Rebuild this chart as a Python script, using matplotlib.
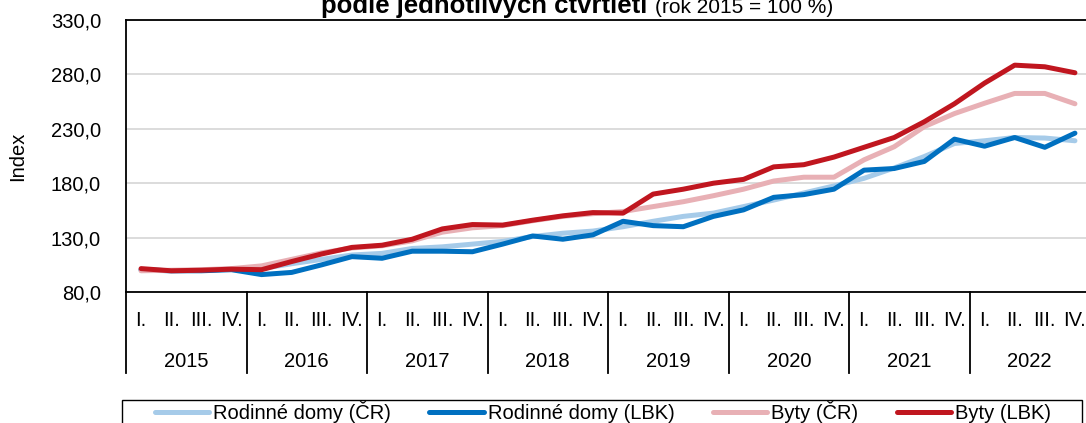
import numpy as np
import matplotlib
matplotlib.use('Agg')
import matplotlib.pyplot as plt
from matplotlib.ticker import FuncFormatter
from matplotlib.patches import Rectangle

plt.rcParams['font.family'] = ['Liberation Sans', 'DejaVu Sans']

# data (index, 2015 = 100)
years = ['2015', '2016', '2017', '2018', '2019', '2020', '2021', '2022']
quarters = ['I.', 'II.', 'III.', 'IV.']

rd_cr = [100, 99.5, 100, 101,
         101.5, 106, 110, 114,
         115.5, 120, 121.5, 124,
         126.5, 131, 134, 136,
         140, 145, 149.5, 152.5,
         158.5, 164.5, 171, 177.5,
         184.5, 194, 204.5, 216.5,
         219, 222, 221.5, 219]
rd_lbk = [100.5, 99.5, 99.5, 100.5,
          96, 98, 105, 112.5,
          111, 117.5, 117.5, 117,
          124, 131.5, 128.5, 132.5,
          145, 141, 140, 149.5,
          155.5, 167, 169.5, 174.5,
          192, 193.5, 200, 220.5,
          214, 222, 213, 226]
byty_cr = [99.5, 100, 100.5, 101.5,
           104, 110, 116, 120.5,
           122.5, 127, 135, 139,
           141, 145.5, 149.5, 152,
           154, 158.5, 163, 168.5,
           174.5, 182, 185.5, 185.5,
           201.5, 213.5, 232, 244,
           253.5, 262.5, 262.5, 253]
byty_lbk = [101.5, 99.5, 100, 101,
            100.5, 108, 115, 121,
            123, 128.5, 138, 142,
            141.5, 146, 150, 153,
            152.5, 170, 174.5, 180,
            183.5, 195, 197, 204,
            213, 222, 236.5, 253,
            272, 288.5, 287, 281.5]

series = [
    ('Rodinné domy (ČR)', rd_cr, '#A6CBE9'),
    ('Rodinné domy (LBK)', rd_lbk, '#0070C0'),
    ('Byty (ČR)', byty_cr, '#E8B0B5'),
    ('Byty (LBK)', byty_lbk, '#C0161F'),
]

FS = 14.5
W, H = 1086, 423
fig = plt.figure(figsize=(W / 100, H / 100), dpi=100)
ax = fig.add_axes([126 / W, 1 - 292 / H, 964 / W, 272 / H])

x = np.arange(len(rd_cr))
handles = []
for name, vals, col in series:
    ln, = ax.plot(x, vals, color=col, lw=3.6, solid_capstyle='round',
                  solid_joinstyle='round', label=name)
    handles.append(ln)

ax.set_xlim(-0.5, len(x) - 0.5)
ax.set_ylim(80, 330)
ax.set_yticks(np.arange(80, 331, 50))
ax.yaxis.set_major_formatter(FuncFormatter(lambda v, p: f'{v:.1f}'.replace('.', ',')))
ax.grid(axis='y', color='#D9D9D9', lw=1.3)
ax.set_axisbelow(True)
ax.tick_params(axis='y', length=0, pad=18, labelsize=FS)

ax.set_xticks(x, quarters * len(years))
ax.tick_params(axis='x', length=0, pad=14, labelsize=FS)

for s in ['top', 'left', 'bottom']:
    ax.spines[s].set_color('black')
    ax.spines[s].set_linewidth(1.3)
ax.spines['right'].set_visible(False)

# year row and separators under the quarter labels
tr = ax.get_xaxis_transform()
for i, yr in enumerate(years):
    ax.text(4 * i + 1.5, -0.276, yr, transform=tr, ha='center', va='baseline', fontsize=FS)
for b in range(len(years) + 1):
    ax.plot([4 * b - 0.5] * 2, [0, -0.298], transform=tr, clip_on=False,
            color='black', lw=1.3)

fig.text(18 / W, 1 - 156 / H, 'Index', rotation=90, ha='center', va='center', fontsize=FS)

fig.text(647 / W, 1 - 13 / H, 'podle jednotlivých čtvrtletí', ha='right', va='baseline',
         fontsize=18.5, fontweight='bold')
fig.text(655 / W, 1 - 13 / H, '(rok 2015 = 100 %)', ha='left', va='baseline', fontsize=15)

# legend box (cut by the bottom edge, as in the reference)
fig.patches.append(Rectangle((122 / W, -0.1), 960 / W, 0.1 + 1 - 400 / H,
                             transform=fig.transFigure, fill=False,
                             edgecolor='black', lw=1.0))
fig.legend(handles, [s[0] for s in series], loc='upper center',
           bbox_to_anchor=(603 / W, 1 - 401 / H), ncol=4, frameon=False,
           borderaxespad=0, borderpad=0, handlelength=2.7, handletextpad=0.2,
           columnspacing=1.9, fontsize=FS)

fig.savefig('out.png', dpi=100)
